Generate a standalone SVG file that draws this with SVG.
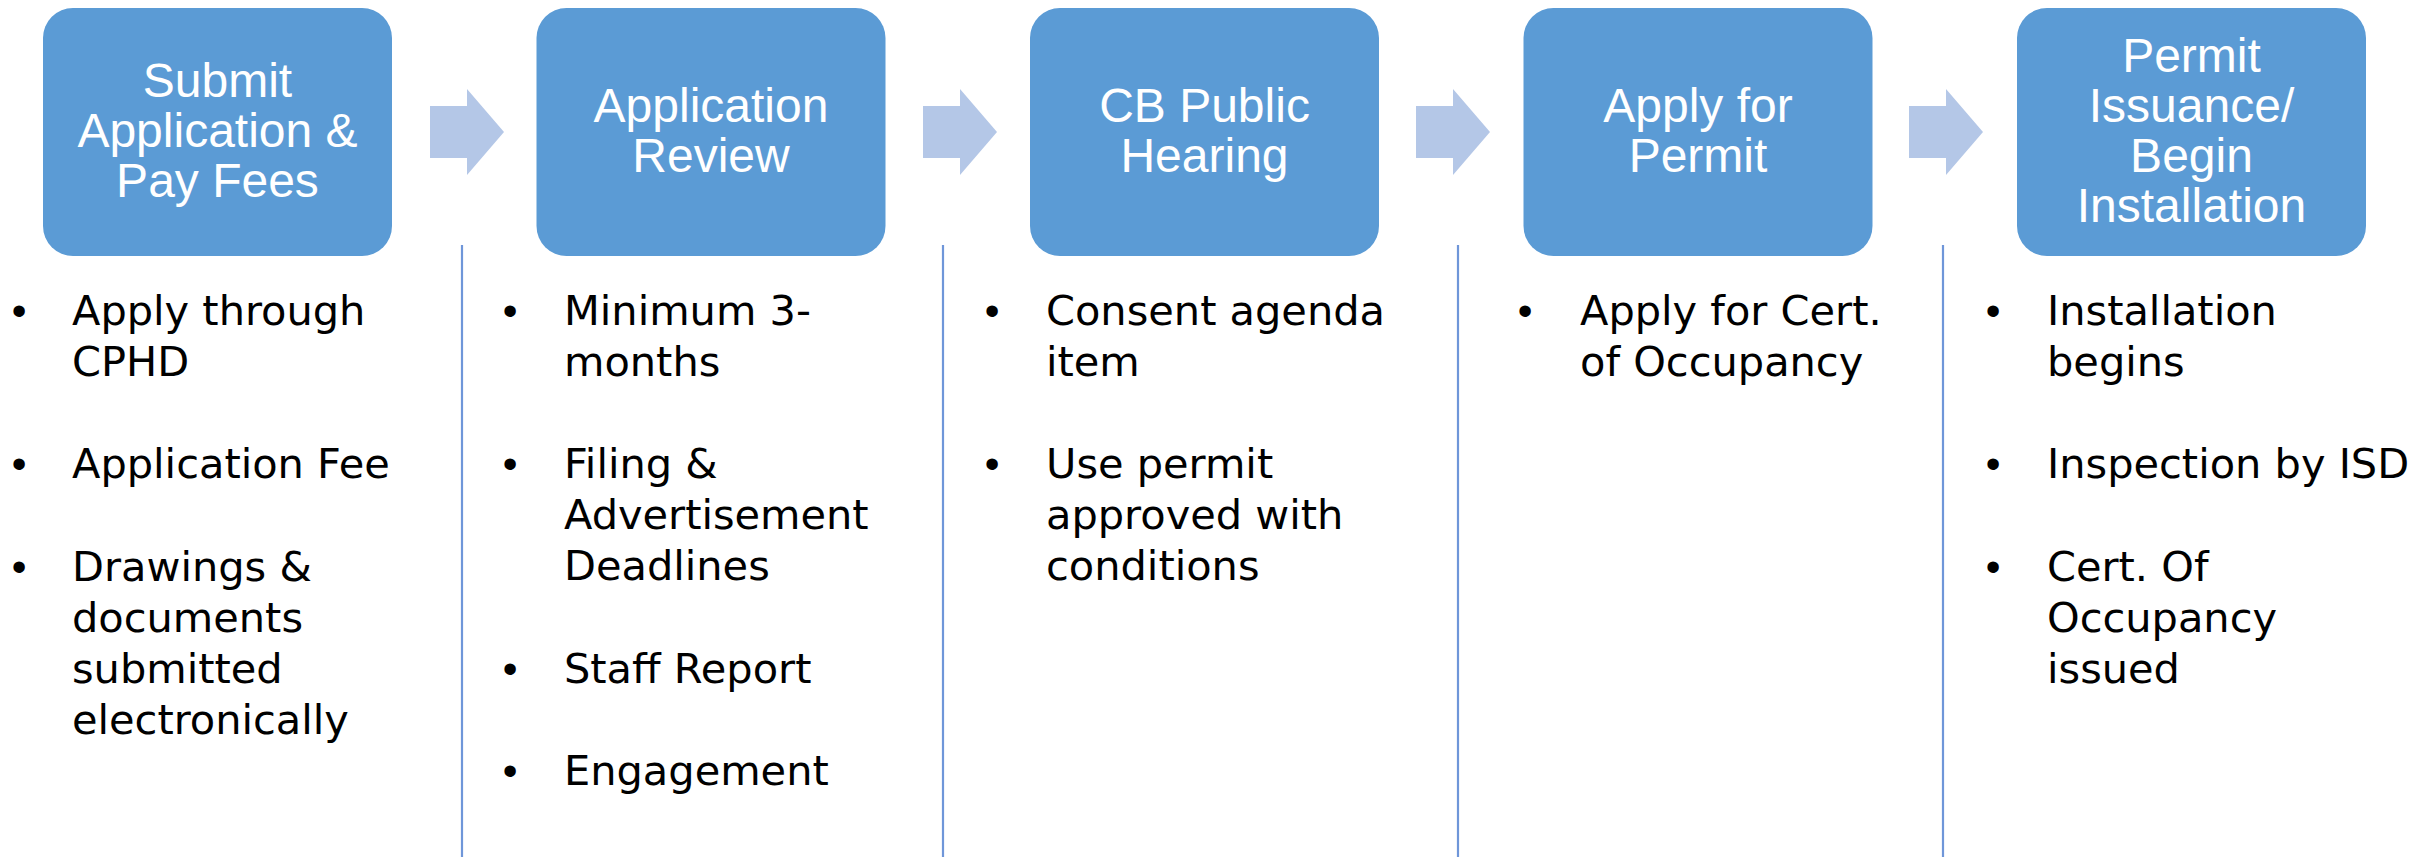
<svg xmlns="http://www.w3.org/2000/svg" width="2420" height="857" viewBox="0 0 2420 857">
  <style>
    .box { fill: #5B9BD5; }
    .title { font-family: "Liberation Sans", Arial, sans-serif; font-size: 48px; fill: #FFFFFF; text-anchor: middle; }
    .item { font-family: "DejaVu Sans", "Liberation Sans", sans-serif; font-size: 41.5px; fill: #000000; }
    .bullet { font-family: "Liberation Sans", Arial, sans-serif; font-size: 42px; fill: #000000; text-anchor: middle; }
    .arrow { fill: #B4C7E7; }
    .divider { stroke: #6F96D9; stroke-width: 2.2; }
  </style>

  <rect width="2420" height="857" fill="#FFFFFF"/>

  <!-- column dividers -->
  <g id="dividers">
    <line class="divider" x1="462" y1="245" x2="462" y2="857"/>
    <line class="divider" x1="943" y1="245" x2="943" y2="857"/>
    <line class="divider" x1="1458" y1="245" x2="1458" y2="857"/>
    <line class="divider" x1="1943" y1="245" x2="1943" y2="857"/>
  </g>

  <!-- step-to-step arrows -->
  <g id="connectors">
    <polygon class="arrow" points="430,106 467,106 467,89 504,132 467,175 467,158 430,158"/>
    <polygon class="arrow" points="923,106 960,106 960,89 997,132 960,175 960,158 923,158"/>
    <polygon class="arrow" points="1416,106 1453,106 1453,89 1490,132 1453,175 1453,158 1416,158"/>
    <polygon class="arrow" points="1909,106 1946,106 1946,89 1983,132 1946,175 1946,158 1909,158"/>
  </g>

  <!-- step 1 -->
  <g id="step-submit">
    <rect class="box" x="43" y="8" width="349" height="248" rx="30" ry="30"/>
    <text class="title" x="217.5" y="96.7">Submit</text>
    <text class="title" x="217.5" y="146.7">Application &amp;</text>
    <text class="title" x="217.5" y="196.7">Pay Fees</text>
    <text class="bullet" x="19" y="325">•</text>
    <text class="item" x="72" y="325">Apply through</text>
    <text class="item" x="72" y="376">CPHD</text>
    <text class="bullet" x="19" y="478">•</text>
    <text class="item" x="72" y="478">Application Fee</text>
    <text class="bullet" x="19" y="581">•</text>
    <text class="item" x="72" y="581">Drawings &amp;</text>
    <text class="item" x="72" y="632">documents</text>
    <text class="item" x="72" y="683">submitted</text>
    <text class="item" x="72" y="734">electronically</text>
  </g>

  <!-- step 2 -->
  <g id="step-review">
    <rect class="box" x="536.5" y="8" width="349" height="248" rx="30" ry="30"/>
    <text class="title" x="711" y="121.7">Application</text>
    <text class="title" x="711" y="171.7">Review</text>
    <text class="bullet" x="510" y="325">•</text>
    <text class="item" x="564" y="325">Minimum 3-</text>
    <text class="item" x="564" y="376">months</text>
    <text class="bullet" x="510" y="478">•</text>
    <text class="item" x="564" y="478">Filing &amp;</text>
    <text class="item" x="564" y="529">Advertisement</text>
    <text class="item" x="564" y="580">Deadlines</text>
    <text class="bullet" x="510" y="683">•</text>
    <text class="item" x="564" y="683">Staff Report</text>
    <text class="bullet" x="510" y="785">•</text>
    <text class="item" x="564" y="785">Engagement</text>
  </g>

  <!-- step 3 -->
  <g id="step-hearing">
    <rect class="box" x="1030" y="8" width="349" height="248" rx="30" ry="30"/>
    <text class="title" x="1204.5" y="121.7">CB Public</text>
    <text class="title" x="1204.5" y="171.7">Hearing</text>
    <text class="bullet" x="992" y="325">•</text>
    <text class="item" x="1046" y="325">Consent agenda</text>
    <text class="item" x="1046" y="376">item</text>
    <text class="bullet" x="992" y="478">•</text>
    <text class="item" x="1046" y="478">Use permit</text>
    <text class="item" x="1046" y="529">approved with</text>
    <text class="item" x="1046" y="580">conditions</text>
  </g>

  <!-- step 4 -->
  <g id="step-apply">
    <rect class="box" x="1523.5" y="8" width="349" height="248" rx="30" ry="30"/>
    <text class="title" x="1698" y="121.7">Apply for</text>
    <text class="title" x="1698" y="171.7">Permit</text>
    <text class="bullet" x="1525" y="325">•</text>
    <text class="item" x="1580" y="325">Apply for Cert.</text>
    <text class="item" x="1580" y="376">of Occupancy</text>
  </g>

  <!-- step 5 -->
  <g id="step-issuance">
    <rect class="box" x="2017" y="8" width="349" height="248" rx="30" ry="30"/>
    <text class="title" x="2191.5" y="71.7">Permit</text>
    <text class="title" x="2191.5" y="121.7">Issuance/</text>
    <text class="title" x="2191.5" y="171.7">Begin</text>
    <text class="title" x="2191.5" y="221.7">Installation</text>
    <text class="bullet" x="1993" y="325">•</text>
    <text class="item" x="2047" y="325">Installation</text>
    <text class="item" x="2047" y="376">begins</text>
    <text class="bullet" x="1993" y="478">•</text>
    <text class="item" x="2047" y="478">Inspection by ISD</text>
    <text class="bullet" x="1993" y="581">•</text>
    <text class="item" x="2047" y="581">Cert. Of</text>
    <text class="item" x="2047" y="632">Occupancy</text>
    <text class="item" x="2047" y="683">issued</text>
  </g>
</svg>
